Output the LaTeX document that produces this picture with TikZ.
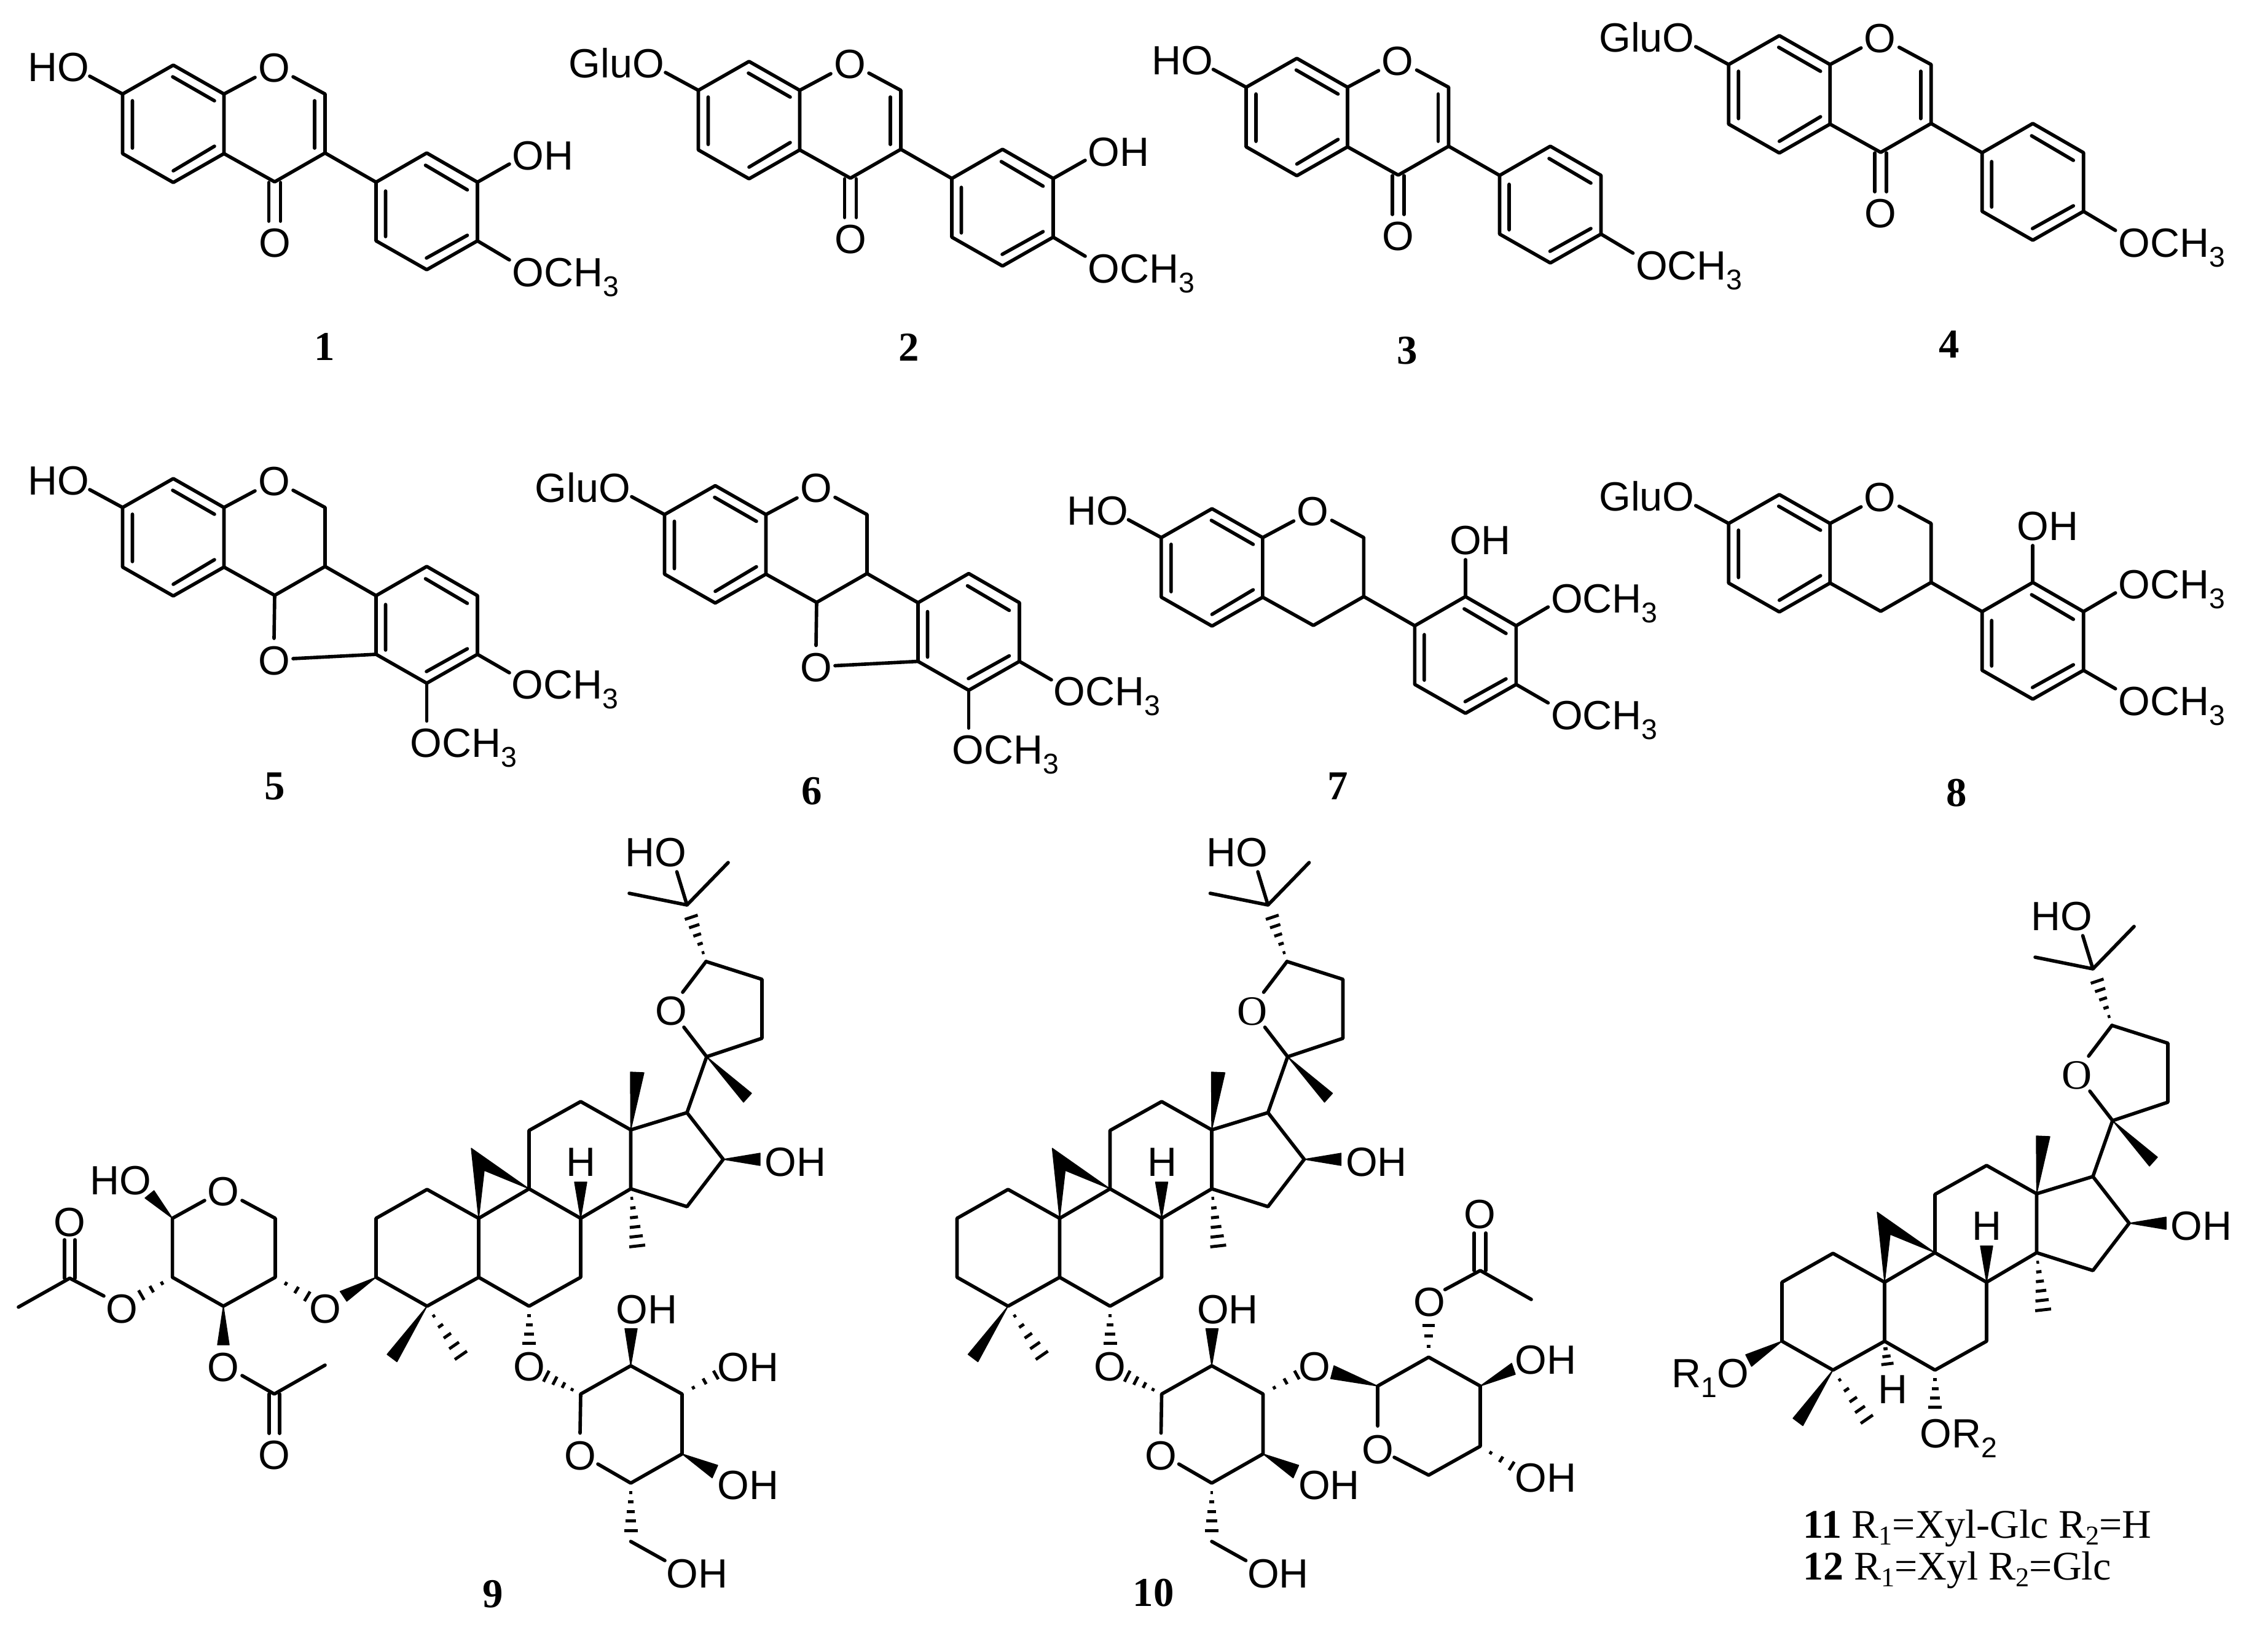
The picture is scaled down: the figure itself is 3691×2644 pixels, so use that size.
\documentclass[tikz,border=0pt]{standalone}
\usepackage{fontspec}
\setmainfont{Liberation Serif}
\setsansfont{Liberation Sans}
\usetikzlibrary{calc}
\newcommand\sbs[1]{\raisebox{-4.6pt}{\fontsize{13.2}{14}\selectfont #1}}
\newcommand\capsub[1]{\raisebox{-3.2pt}{\fontsize{12.6}{14}\selectfont #1}}
\tikzset{
  bond/.style={line width=1.6pt,line join=round,line cap=round,black},
  hashln/.style={line width=1.4pt,line cap=butt,black},
  wedgeb/.style={fill=black,draw=black,line width=0.4pt,line join=round},
  atom/.style={font=\sffamily\fontsize{18.9}{20}\selectfont,inner sep=0pt,text=black},
  atomserif/.style={font=\rmfamily\fontsize{19.3}{21}\selectfont,inner sep=0pt,text=black},
  cpdnum/.style={font=\rmfamily\bfseries\fontsize{19}{21}\selectfont,inner sep=0pt,anchor=base,text=black},
  caption/.style={font=\rmfamily\fontsize{18.8}{21}\selectfont,inner sep=0pt,anchor=base west,text=black}
}
% text placed by left ink edge / centre of capitals
\newcommand\atomL[4]{\node[atom,anchor=base west] (#1) at ({#2-3},{#3+24}) {#4};}
\newcommand\atomC[4]{\node[atom,anchor=base] (#1) at ({#2},{#3+24}) {#4};}
% hashed bond: narrow tip, wide end, half width in px, number of dashes
\newcommand\hashb[4]{%
  \coordinate (hfar) at ($#1!2!#2$);
  \foreach \ii in {1,...,#4}{%
    \pgfmathsetmacro\hT{\ii/#4}%
    \coordinate (hp) at ($#1!\hT!#2$);
    \draw[hashln] ($(hp)!#3*\hT*0.01cm!90:(hfar)$) -- ($(hp)!#3*\hT*0.01cm!-90:(hfar)$);
  }}
% ---- isoflavonoid fragments, drawn in the coordinates of compound 1
\newcommand\ringA[1]{%
  \coordinate (a1) at (282,106); \coordinate (a2) at (364.5,153);
  \coordinate (a3) at (364.5,250); \coordinate (a4) at (282,297);
  \coordinate (a5) at (199.5,250); \coordinate (a6) at (199.5,153);
  \coordinate (c2) at (529,153); \coordinate (c3) at (529,249); \coordinate (c4) at (447,296);
  \coordinate (b1) at (612,296.5); \coordinate (b2) at (694.5,249); \coordinate (b3) at (777,296.5);
  \coordinate (b4) at (777,392); \coordinate (b5) at (694.5,439); \coordinate (b6) at (612,392);
  \atomC{#1o}{446}{109}{O}
  \draw[bond] (a6)--(a1)--(a2)--(a3)--(a4)--(a5)--cycle;
  \draw[bond] (281,125)--(349,164) (349,238)--(282,278) (215.5,164)--(215.5,241);
  \draw[bond] (a2)--(415,126) (477,125)--(c2)--(c3)--(c4)--(a3);
  \draw[bond] (c3)--(b1);
  \draw[bond] (b1)--(b2)--(b3)--(b4)--(b5)--(b6)--cycle;
  \draw[bond] (627.5,311)--(627.5,385) (692.5,269)--(760.5,309) (760.5,383)--(694,420);
}
\newcommand\carbonyl[1]{%
  \draw[bond] (512,164)--(512,241);
  \draw[bond] (437.5,297)--(437.5,360) (456.5,297)--(456.5,360);
  \atomC{#1co}{447}{394}{O}
}
\newcommand\gluLeft[1]{\atomL{#1glu}{-9}{108.5}{GluO}\draw[bond] (146,124)--(a6);}
% ---- cycloartane skeleton in the coordinates of compound 9
\newcommand\steroid[4]{%
 \begin{scope}[shift={(#2,#3)}]
  \coordinate (C1) at (695,1936); \coordinate (C2) at (612,1983); \coordinate (C3) at (612,2079);
  \coordinate (C4) at (695,2126); \coordinate (C5) at (779,2079); \coordinate (C10) at (779,1983);
  \coordinate (C6) at (861,2126); \coordinate (C7) at (945,2079); \coordinate (C8) at (945,1983);
  \coordinate (C9) at (861,1935); \coordinate (C11) at (861,1840); \coordinate (C12) at (945,1793);
  \coordinate (C13) at (1026.5,1839); \coordinate (C14) at (1026.5,1935); \coordinate (C15) at (1118,1964);
  \coordinate (C16) at (1177,1887); \coordinate (C17) at (1118,1811); \coordinate (C20) at (1150,1720);
  \coordinate (C22) at (1149,1565); \coordinate (C23) at (1240,1594); \coordinate (C24) at (1240,1690);
  \coordinate (C25) at (1118,1473);
  \draw[bond] (C1)--(C2)--(C3)--(C4)--(C5)--(C10)--cycle;
  \draw[bond] (C5)--(C6)--(C7)--(C8)--(C9)--(C10);
  \draw[bond] (C9)--(C11)--(C12)--(C13)--(C14)--(C8);
  \draw[bond] (C14)--(C15)--(C16)--(C17)--(C13);
  \draw[bond] (C17)--(C20)--(C24)--(C23)--(C22);
  \draw[bond] (C20)--(1113,1672) (1111,1615)--(C22);
  \draw[bond] (1024,1454)--(C25)--(1185,1404) (C25)--(1101.5,1419);
  \fill[wedgeb] (C10)--(767,1869)--(C9)--(788,1905)--cycle;
  \fill[wedgeb] (C8)--(935,1924)--(955,1924)--cycle;
  \fill[wedgeb] (C13)--(1026,1745)--(1048,1746)--cycle;
  \fill[wedgeb] (C16)--(1237,1877)--(1237,1897)--cycle;
  \fill[wedgeb] (C20)--(1223,1779.5)--(1210,1794)--cycle;
  \fill[wedgeb] (C4)--(630,2204.5)--(646,2216.5)--cycle;
  \hashb{(C14)}{(1037,2028)}{13}{6}
  \hashb{(C22)}{(1125,1493)}{11}{5}
  \hashb{(C4)}{(750,2206)}{12}{5}
  \hashb{(C6)}{(861,2186)}{11}{4}
  \atomL{#1hotop}{1020}{1386}{HO}
  \node[#4,anchor=base] (#1ofur) at (1092,1668) {O};
  \atomL{#1oh}{1247}{1890}{OH}
  \atomC{#1h}{945.5}{1890}{H}
 \end{scope}}
% ---- glucose ring shared by 9 and 10
\newcommand\glc[2]{%
 \begin{scope}[shift={(#2,0)}]
  \coordinate (G1) at (945,2269); \coordinate (G2) at (1026.5,2223); \coordinate (G3) at (1110,2269);
  \coordinate (G4) at (1110,2366.5); \coordinate (G5) at (1026.5,2414); \coordinate (G6) at (1026.5,2509);
  \draw[bond] (944,2332.5)--(G1)--(G2)--(G3)--(G4)--(G5)--(973,2383);
  \draw[bond] (G6)--(1082,2540);
  \fill[wedgeb] (G2)--(1017,2162.5)--(1037,2162.5)--cycle;
  \fill[wedgeb] (G4)--(1168,2385)--(1159,2405.5)--cycle;
  \hashb{(G1)}{(889,2240)}{10}{4}
  \hashb{(G3)}{(1165,2238)}{8}{3}
  \hashb{(G5)}{(1026.5,2491)}{11}{5}
  \atomC{#1o}{944}{2368}{O}
  \atomL{#1oh2}{1005}{2130}{OH}
  \atomL{#1oh4}{1170}{2416}{OH}
  \atomL{#1oh6}{1087}{2560}{OH}
 \end{scope}}
\begin{document}
\begin{tikzpicture}[x=0.01cm,y=-0.01cm]
\useasboundingbox (0,0) rectangle (3691,2644);
\fill[white] (0,0) rectangle (3691,2644);
% 1
\begin{scope}
  \ringA{sa}\carbonyl{sa}
  \atomL{saho}{48}{108.5}{HO}\draw[bond] (146,124)--(a6);
  \atomL{saoh}{836}{252}{OH}\draw[bond] (b3)--(829,267);
  \atomL{saome}{836}{442}{OCH\sbs{3}}\draw[bond] (b4)--(829,423);
\end{scope}
% 2
\begin{scope}[shift={(937,-6)}]
  \ringA{sb}\carbonyl{sb}\gluLeft{sb}
  \atomL{sboh}{836}{252}{OH}\draw[bond] (b3)--(829,267);
  \atomL{sbome}{836}{442}{OCH\sbs{3}}\draw[bond] (b4)--(829,423);
\end{scope}
% 3
\begin{scope}[shift={(1828.5,-11)}]
  \ringA{sc}\carbonyl{sc}
  \atomL{scho}{48}{108.5}{HO}\draw[bond] (146,124)--(a6);
  \atomL{scome}{836}{442}{OCH\sbs{3}}\draw[bond] (b4)--(829,423);
\end{scope}
% 4
\begin{scope}[shift={(2613.7,-48)}]
  \ringA{sd}\carbonyl{sd}\gluLeft{sd}
  \atomL{sdome}{836}{442}{OCH\sbs{3}}\draw[bond] (b4)--(829,423);
\end{scope}
% 5
\begin{scope}[shift={(0,673)}]
  \ringA{se}
  \atomL{seho}{48}{108.5}{HO}\draw[bond] (146,124)--(a6);
  \atomC{seo}{446}{401}{O}\draw[bond] (c4)--(446,366) (477,399)--(b6);
  \atomL{seome}{835}{440}{OCH\sbs{3}}\draw[bond] (b4)--(829,422);
  \atomL{seomf}{670}{535}{OCH\sbs{3}}\draw[bond] (b5)--(694.5,500.5);
\end{scope}
% 6
\begin{scope}[shift={(882,684.5)}]
  \ringA{sf}\gluLeft{sf}
  \atomC{sfo}{446}{401}{O}\draw[bond] (c4)--(446,366) (477,399)--(b6);
  \atomL{sfome}{835}{440}{OCH\sbs{3}}\draw[bond] (b4)--(829,422);
  \atomL{sfomf}{670}{535}{OCH\sbs{3}}\draw[bond] (b5)--(694.5,500.5);
\end{scope}
% 7
\begin{scope}[shift={(1690.4,722)}]
  \ringA{sg}
  \atomL{sgho}{48}{108.5}{HO}\draw[bond] (146,124)--(a6);
  \atomL{sgoh}{671}{156}{OH}\draw[bond] (b2)--(694.5,189);
  \atomL{sgome}{836}{251}{OCH\sbs{3}}\draw[bond] (b3)--(829,266);
  \atomL{sgomf}{836}{441}{OCH\sbs{3}}\draw[bond] (b4)--(829,422);
\end{scope}
% 8
\begin{scope}[shift={(2613.7,699)}]
  \ringA{sh}\gluLeft{sh}
  \atomL{shoh}{671}{156}{OH}\draw[bond] (b2)--(694.5,189);
  \atomL{shome}{836}{251}{OCH\sbs{3}}\draw[bond] (b3)--(829,266);
  \atomL{shomf}{836}{441}{OCH\sbs{3}}\draw[bond] (b4)--(829,422);
\end{scope}
% numbers
\node[cpdnum] (n1) at (528,586.5) {1};
\node[cpdnum] (n2) at (1479.5,587.5) {2};
\node[cpdnum] (n3) at (2290.5,592.5) {3};
\node[cpdnum] (n4) at (3172,582.5) {4};
\node[cpdnum] (n5) at (447.5,1301.5) {5};
\node[cpdnum] (n6) at (1320.7,1309.5) {6};
\node[cpdnum] (n7) at (2177,1301.5) {7};
\node[cpdnum] (n8) at (3184.5,1312.5) {8};
\node[cpdnum] (n9) at (802,2616) {9};
\node[cpdnum] (n10) at (1877,2614.5) {10};
% 9
\steroid{si}{0}{0}{atom}
\glc{sig}{0}
\atomC{sio}{861}{2223}{O}
\atomL{sioh3}{1170}{2224}{OH}
\coordinate (xC1) at (280.6,1983); \coordinate (xC2) at (280.6,2079); \coordinate (xC3) at (363.5,2126);
\coordinate (xC4) at (448,2079); \coordinate (xC5) at (448,1983);
\coordinate (xAc1) at (113.5,2080.5); \coordinate (xAc2) at (446.4,2269);
\draw[bond] (333,1954)--(xC1)--(xC2)--(xC3)--(xC4)--(xC5)--(394,1954);
\atomC{sixo}{363.5}{1938}{O}
\atomL{sixho}{149}{1920}{HO}
\fill[wedgeb] (xC1)--(236,1950)--(250.6,1938)--cycle;
\hashb{(xC2)}{(230,2108)}{9}{3}
\hashb{(xC4)}{(500,2110)}{9}{3}
\fill[wedgeb] (xC3)--(354,2189)--(373,2189)--cycle;
\fill[wedgeb] (612,2079)--(553.6,2102)--(564.4,2118)--cycle;
\atomC{sio2}{198}{2129}{O}
\atomC{sio3}{363.5}{2224}{O}
\atomC{sio4}{529}{2129}{O}
\draw[bond] (30,2127.5)--(xAc1)--(169,2109.4);
\draw[bond] (105,2080.5)--(105,2018) (122,2080.5)--(122,2018);
\atomC{sico1}{113.5}{1988}{O}
\draw[bond] (394,2239)--(xAc2)--(529,2222);
\draw[bond] (438,2269)--(438,2333) (455,2269)--(455,2333);
\atomC{sico2}{446.4}{2367}{O}
% 10
\steroid{sj}{945.5}{0}{atomserif}
\glc{sjg}{945.5}
\atomC{sjo}{1806}{2223}{O}
\atomC{sjo3}{2139}{2223}{O}
\coordinate (yC1) at (2242,2256); \coordinate (yC2) at (2325,2209); \coordinate (yC3) at (2409,2256);
\coordinate (yC4) at (2409,2354); \coordinate (yC5) at (2325,2401); \coordinate (yAc) at (2409,2068);
\draw[bond] (2242,2321)--(yC1)--(yC2)--(yC3)--(yC4)--(yC5)--(2269,2372);
\atomC{sjxo}{2242}{2358}{O}
\fill[wedgeb] (yC1)--(2171,2223)--(2165.6,2244)--cycle;
\fill[wedgeb] (yC3)--(2460,2219)--(2466,2237)--cycle;
\hashb{(yC4)}{(2460,2386)}{8}{3}
\hashb{(yC2)}{(2325,2157)}{10}{3}
\atomL{sjoh1}{2468}{2212}{OH}
\atomL{sjoh2}{2468}{2404}{OH}
\atomC{sjoac}{2326}{2118}{O}
\draw[bond] (2351.6,2099)--(yAc)--(2492,2115);
\draw[bond] (2399,2068)--(2399,2007) (2418,2068)--(2418,2007);
\atomC{sjco}{2408}{1975}{O}
% 11, 12
\steroid{sk}{2288}{104}{atomserif}
\fill[wedgeb] (2900,2183)--(2841,2205)--(2850.5,2224)--cycle;
\hashb{(3067,2183)}{(3071.6,2220)}{10}{3}
\atomL{skro}{2723}{2234}{R\sbs{1}O}
\atomC{skh}{3080}{2260}{H}
\atomL{skor}{3127}{2332}{OR\sbs{2}}
\node[caption] (capa) at (2934,2503.5) {\textbf{11} R\capsub{1}=Xyl-Glc R\capsub{2}=H};
\node[caption] (capb) at (2934,2571) {\textbf{12} R\capsub{1}=Xyl R\capsub{2}=Glc};
\end{tikzpicture}
\end{document}
